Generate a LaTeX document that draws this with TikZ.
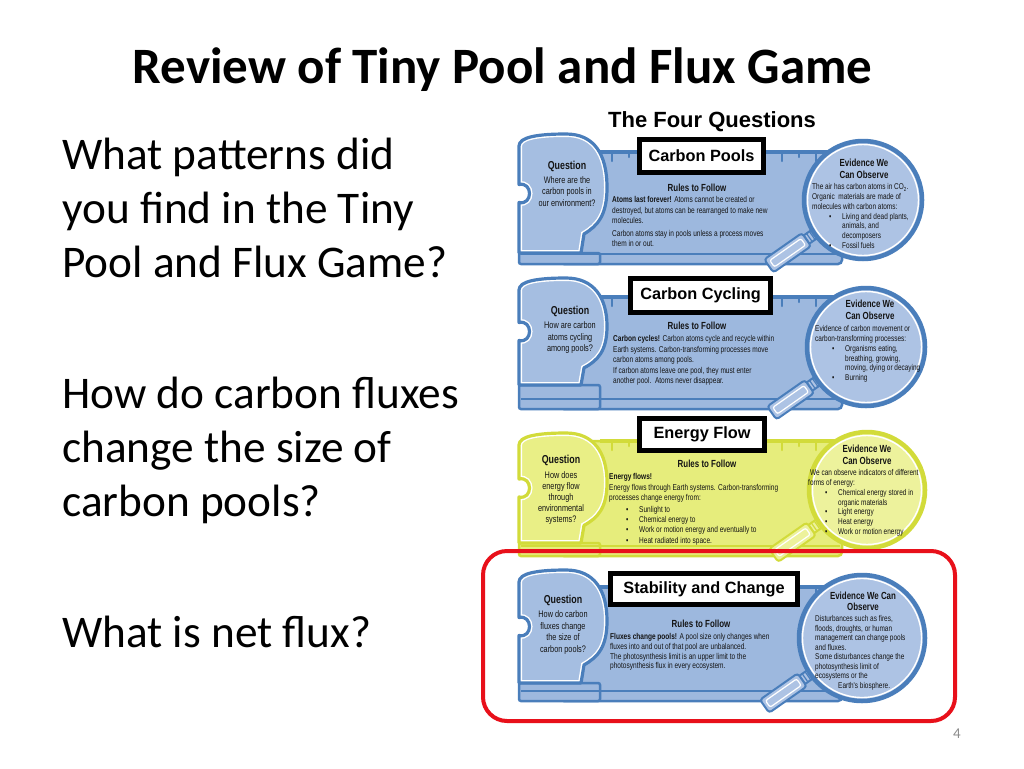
\documentclass[tikz,border=0pt]{standalone}
\usepackage{fontspec}
\setmainfont{Carlito}
\newfontfamily\arialf{Liberation Sans}
\newfontfamily\pf[FakeStretch=0.77]{Liberation Sans}
\definecolor{bfill}{HTML}{9DB8DE}
\definecolor{bline}{HTML}{4A7EBB}
\definecolor{bcirc}{HTML}{ADC3E4}
\definecolor{bpuz}{HTML}{A5BEE1}
\definecolor{yfill}{HTML}{E6ED7C}
\definecolor{yline}{HTML}{D2DB3A}
\definecolor{ycirc}{HTML}{EDF29C}
\definecolor{ypuz}{HTML}{E9EF86}
\definecolor{redbox}{HTML}{E8101A}
\definecolor{txt}{HTML}{141414}
\definecolor{pgnum}{HTML}{8C8C8C}
\newcommand\bl{\hspace*{17pt}\makebox[13pt][l]{•}}
\newcommand\bc{\hspace*{30pt}}
\newcommand\puzz[3]{\path[#3] (519,{#1+12}) .. controls (519,{#1+3}) and (538,#1) .. (566,#1)
  .. controls (594,#1) and (607,{#1+20}) .. (607,{#1+0.45*(#2-#1)})
  .. controls (607,{#1+0.68*(#2-#1)}) and (598,{#1+0.77*(#2-#1)}) .. (584,{#1+0.84*(#2-#1)})
  -- (581,#2) -- (519,#2) -- (519,{#1+0.5*(#2-#1)+9})
  .. controls (533,{#1+0.5*(#2-#1)+12}) and (533,{#1+0.5*(#2-#1)-12}) .. (519,{#1+0.5*(#2-#1)-9})
  -- cycle;}
\newcommand\panelbg[8]{%
  \draw[#8line, line width=2.5, fill=#8fill, rounded corners=4] (560,#3) rectangle (842,#4);
  \draw[#8line, line width=2.5, fill=#8fill, rounded corners=2] (519,#2) rectangle (600,#4);
  \draw[#8line, line width=3.5] (600,#3) -- (838,#3);
  \draw[#8line, line width=2.5] (521,#4-10) -- (840,#4-10);
  \foreach \tx in {612,646,...,816} {\draw[#8line, line width=2.4, line cap=round] (\tx,#3) -- (\tx,#3+9);}
  \foreach \tx in {629,663,...,816} {\draw[#8line, line width=2.4, line cap=round] (\tx,#3) -- (\tx,#3+5);}
  \begin{scope}
    \puzz{#1}{#2}{clip}
    \puzz{#1}{#2}{fill=#8puz}
    \puzz{#1}{#2}{draw=white, line width=6}
  \end{scope}
  \puzz{#1}{#2}{draw=#8line, line width=3.2, line join=round}
  \begin{scope}[shift={(#5,#6)}, rotate=215]
    \draw[#8line, line width=2, fill=#8circ] (#7-4,-5) rectangle (#7+10,5);
    \draw[#8line, line width=1.2] (#7+3,-5) -- (#7+3,5) (#7+6.5,-5) -- (#7+6.5,5);
    \draw[#8line, line width=2, fill=#8circ, rounded corners=3] (#7+10,-8) rectangle (#7+56,8);
    \draw[white, line width=1.2, rounded corners=2] (#7+14,-4) rectangle (#7+52,4);
  \end{scope}
  \fill[#8circ] (#5,#6) circle[radius=#7pt];
  \draw[#8line, line width=4.5] (#5,#6) circle[radius=#7pt];
  \draw[white, line width=1.4] (#5,#6) circle[radius=#7pt-3.5pt];
}
\tikzset{
  qhead/.style={font=\pf\bfseries\fontsize{11.5}{13}\selectfont, text=txt, inner sep=0},
  qbody/.style={font=\pf\fontsize{9.5}{#1}\selectfont, align=center, anchor=north, inner sep=0, text=txt},
  qbody/.default=11.5,
  rhead/.style={font=\pf\bfseries\fontsize{10.3}{12}\selectfont, inner sep=0, text=txt},
  rbody/.style={font=\pf\fontsize{8.5}{#1}\selectfont, align=left, anchor=north west, inner sep=0, text=txt},
  rbody/.default=10.4,
  ehead/.style={font=\pf\bfseries\fontsize{10.3}{#1}\selectfont, align=center, anchor=north, inner sep=0, text=txt},
  ehead/.default=12,
  ebody/.style={font=\pf\fontsize{8.4}{#1}\selectfont, align=left, anchor=north west, inner sep=0, text=txt},
  ebody/.default=9.8,
  titlebox/.style={draw=black, line width=5, fill=white, font=\arialf\bfseries\fontsize{16.3}{18}\selectfont, inner sep=0},
  bigtext/.style={font=\fontsize{45.3}{54}\selectfont, anchor=base west, inner sep=0},
}
\begin{document}
\begin{tikzpicture}[x=1pt,y=-1pt]
\useasboundingbox (0,0) rectangle (1024,768);
\fill[white] (0,0) rectangle (1024,768);

% title
\node[font=\bfseries\fontsize{51}{60}\selectfont, anchor=base, inner sep=0] (title) at (502.5,83) {Review of Tiny Pool and Flux Game};

% left text
\node[bigtext] (l1) at (62,169) {What patterns did};
\node[bigtext] (l2) at (62,223) {you find in the Tiny};
\node[bigtext] (l3) at (62,277) {Pool and Flux Game?};
\node[bigtext] (l4) at (62,408) {How do carbon fluxes};
\node[bigtext] (l5) at (62,462) {change the size of};
\node[bigtext] (l6) at (62,516) {carbon pools?};
\node[bigtext] (l7) at (62,647) {What is net flux?};

% header
\node[font=\arialf\bfseries\fontsize{22}{26}\selectfont, inner sep=0] (fq) at (712,122) {The Four Questions};

% panels
\panelbg{134}{253}{152}{264}{863}{200}{59}{b}
\panelbg{278}{385}{297}{409}{866}{347}{59}{b}
\panelbg{433}{543}{441}{556}{867}{490}{58}{y}
\panelbg{570}{683}{587}{701}{862}{638}{63}{b}

% title boxes
\node[titlebox, minimum width=124pt, minimum height=33pt] (t1) at (701.5,156) {Carbon Pools};
\node[titlebox, minimum width=140pt, minimum height=34pt] (t2) at (700.5,295.5) {Carbon Cycling};
\node[titlebox, minimum width=125pt, minimum height=32pt] (t3) at (702,434.5) {Energy Flow};
\node[titlebox, minimum width=187pt, minimum height=31pt] (t4) at (704,589) {Stability and Change};

% panel 1 text
\node[qhead] (q1h) at (567,166) {Question};
\node[qbody] (q1b) at (567,176) {Where are the\\carbon pools in\\our environment?};
\node[rhead] (r1h) at (697,188) {Rules to Follow};
\node[rbody] (r1b) at (612,196.5) {\textbf{Atoms last forever!} Atoms cannot be created or\\destroyed, but atoms can be rearranged to make new\\molecules.\\[2.5pt]Carbon atoms stay in pools unless a process moves\\them in or out.};
\node[ehead] (e1h) at (864,158.5) {Evidence We\\Can Observe};
\node[ebody] (e1b) at (812,183.5) {The air has carbon atoms in CO\textsubscript{2}.\\Organic\ \ materials are made of\\molecules with carbon atoms:\\\bl Living and dead plants,\\\bc animals, and\\\bc decomposers\\\bl Fossil fuels};

% panel 2 text
\node[qhead] (q2h) at (570,311) {Question};
\node[qbody] (q2b) at (570,321.5) {How are carbon\\atoms cycling\\among pools?};
\node[rhead] (r2h) at (697,326) {Rules to Follow};
\node[rbody=10.2] (r2b) at (613,335.5) {\textbf{Carbon cycles!} Carbon atoms cycle and recycle within\\Earth systems. Carbon-transforming processes move\\carbon atoms among pools.\\[1pt]If carbon atoms leave one pool, they must enter\\another pool.\ \ Atoms never disappear.};
\node[ehead] (e2h) at (870,299.5) {Evidence We\\Can Observe};
\node[ebody] (e2b) at (815,325.5) {Evidence of carbon movement or\\carbon-transforming processes:\\\bl Organisms eating,\\\bc breathing, growing,\\\bc moving, dying or decaying\\\bl Burning};

% panel 3 text
\node[qhead] (q3h) at (561,460) {Question};
\node[qbody=11] (q3b) at (561,471.5) {How does\\energy flow\\through\\environmental\\systems?};
\node[rhead] (r3h) at (707,464) {Rules to Follow};
\node[rbody=10.3] (r3b) at (609,473.5) {\textbf{Energy flows!}\\Energy flows through Earth systems. Carbon-transforming\\processes change energy from:\\[1.5pt]\bl Sunlight to\\\bl Chemical energy to\\\bl Work or motion energy and eventually to\\\bl Heat radiated into space.};
\node[ehead] (e3h) at (867,445) {Evidence We\\Can Observe};
\node[ebody] (e3b) at (808,469.5) {\hspace*{2pt}We can observe indicators of different\\forms of energy:\\\bl Chemical energy stored in\\\bc organic materials\\\bl Light energy\\\bl Heat energy\\\bl Work or motion energy};

% panel 4 text
\node[qhead] (q4h) at (563,600) {Question};
\node[qbody=11.6] (q4b) at (563,610.5) {How do carbon\\fluxes change\\the size of\\carbon pools?};
\node[rhead] (r4h) at (701,624) {Rules to Follow};
\node[rbody=9.7] (r4b) at (610,633.5) {\textbf{Fluxes change pools!} A pool size only changes when\\fluxes into and out of that pool are unbalanced.\\The photosynthesis limit is an upper limit to the\\photosynthesis flux in every ecosystem.};
\node[ehead=11] (e4h) at (863,591.5) {Evidence We Can\\Observe};
\node[ebody=9.5] (e4b) at (815,615.5) {Disturbances such as fires,\\floods, droughts, or human\\management can change pools\\and fluxes.\\Some disturbances change the\\photosynthesis limit of\\ecosystems or the\\\hspace*{23pt}Earth's biosphere.};

% highlight
\draw[redbox, line width=4, rounded corners=24] (483,551) rectangle (955,721);

% page number
\node[font=\fontsize{15}{18}\selectfont, text=pgnum, inner sep=0] (pn) at (957,734) {4};
\end{tikzpicture}
\end{document}
